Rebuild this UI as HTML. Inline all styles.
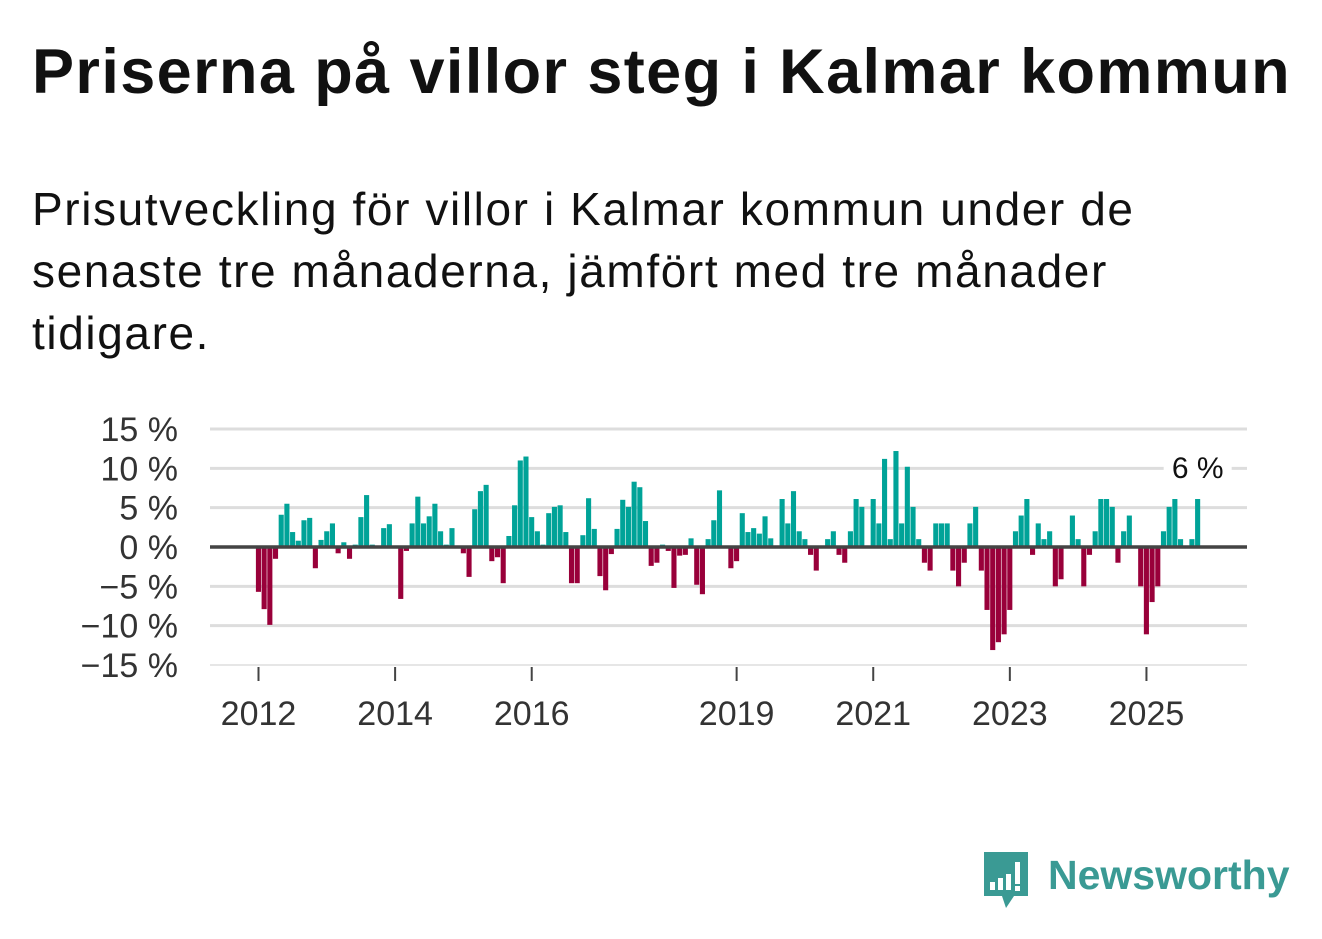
<!DOCTYPE html>
<html><head><meta charset="utf-8">
<style>
body{margin:0;background:#fff;width:1322px;height:939px;overflow:hidden;font-family:"Liberation Sans",sans-serif;color:#111}
h1{position:absolute;left:32px;top:36px;margin:0;font-size:63px;font-weight:bold;color:#111;letter-spacing:1.4px;white-space:nowrap}
#sub{position:absolute;left:32px;top:178px;margin:0;font-size:46px;line-height:62px;width:1140px;color:#111;letter-spacing:1.6px}
svg{position:absolute;left:0;top:0}
</style></head><body>
<h1>Priserna på villor steg i Kalmar kommun</h1>
<p id="sub">Prisutveckling för villor i Kalmar kommun under de senaste tre månaderna, jämfört med tre månader tidigare.</p>
<svg id="chart" width="1322" height="939"></svg>
<div style="position:absolute;left:982px;top:850px;width:310px;height:60px">
<svg width="50" height="60" style="position:absolute;left:0;top:0"><path d="M2 2h44v44H32l-8 12-4-12H2z" fill="#3a9a94"/><rect x="8" y="32" width="5" height="8" fill="#fff"/><rect x="16" y="28" width="5" height="12" fill="#fff"/><rect x="24" y="24" width="5" height="16" fill="#fff"/><rect x="33" y="12" width="5" height="22" fill="#fff"/><rect x="33" y="36" width="5" height="5" fill="#fff"/></svg>
<div style="position:absolute;left:66px;top:0;font-size:41px;color:#3a9a94;font-weight:bold;line-height:50px">Newsworthy</div>
</div>
<script>
const startYear = 2012;
const values = [-5.7,-7.9,-9.9,-1.5,4.1,5.5,1.9,0.8,3.4,3.7,-2.7,0.9,2.0,3.0,-0.8,0.6,-1.5,0.3,3.8,6.6,0.3,0,2.4,2.9,0,-6.6,-0.5,3.0,6.4,3.0,3.9,5.5,2.0,0.3,2.4,0,-0.8,-3.8,4.8,7.1,7.9,-1.8,-1.3,-4.6,1.4,5.3,11.0,11.5,3.8,2.0,0.3,4.3,
5.1,5.3,1.9,-4.6,-4.6,1.5,6.2,2.3,-3.7,-5.5,-0.9,2.3,6.0,5.1,8.3,7.6,3.3,-2.4,-2.0,0.3,-0.5,-5.2,-1.1,-1.0,1.1,-4.8,-6.0,1.0,3.4,7.2,0,-2.7,-1.8,4.3,1.9,2.4,1.7,3.9,1.1,0,6.1,3.0,7.1,2.0,1.0,-1.0,-3.0,0,1.0,2.0,-1.0,
-2.0,2.0,6.1,5.1,0,6.1,3.0,11.2,1.0,12.2,3.0,10.2,5.1,1.0,-2.0,-3.0,3.0,3.0,3.0,-3.0,-5.0,-2.0,3.0,5.1,-3.0,-8.0,-13.1,-12.1,-11.1,-8.0,2.0,4.0,6.1,-1.0,3.0,1.0,2.0,-5.0,-4.1,0,4.0,1.0,-5.0,-1.0,2.0,6.1,6.1,5.1,-2.0,2.0,4.0,
0,-5.0,-11.1,-7.0,-5.0,2.0,5.1,6.1,1.0,0,1.0,6.1];
const yTicks = [15,10,5,0,-5,-10,-15];
const yTickLabels = ["15 %","10 %","5 %","0 %","\u22125 %","\u221210 %","\u221215 %"];
const xTickYears = [2012,2014,2016,2019,2021,2023,2025];
const lastLabel = "6 %";

const svg=document.getElementById('chart');
const NS='http://www.w3.org/2000/svg';
const x0=258.5, mStep=5.692, left=210, right=1247;
const y=v=>547-v*7.867;
const x=i=>x0+i*mStep;
function mk(t,a){const e=document.createElementNS(NS,t);for(const k in a)e.setAttribute(k,a[k]);svg.appendChild(e);return e;}
yTicks.forEach((v,i)=>{
  if(v!==0){const g=mk('line',{x1:left,x2:right,y1:y(v),y2:y(v),stroke:'#ddd','stroke-width':v===-15?1.5:3});
  
  }
  const t=mk('text',{x:178,y:y(v)+12,'text-anchor':'end','font-size':34,fill:'#333','font-family':'Liberation Sans, sans-serif'});
  t.textContent=yTickLabels[i];
  
  
});
values.forEach((v,i)=>{
  if(v===0)return;
  const r=mk('rect',{x:x(i)-2.6,width:5.1,y:Math.min(y(v),y(0)),height:Math.abs(y(v)-y(0)),fill:v>0?'#00a398':'#99003a'});
  
  
});
const z=mk('line',{x1:left,x2:right,y1:y(0),y2:y(0),stroke:'#444','stroke-width':3.5});


xTickYears.forEach(yr=>{
  const xx=x((yr-startYear)*12);
  const tk=mk('line',{x1:xx,x2:xx,y1:667,y2:681,stroke:'#444','stroke-width':2});
  
  
  const t=mk('text',{x:xx,y:725,'text-anchor':'middle','font-size':34,fill:'#333','font-family':'Liberation Sans, sans-serif'});
  t.textContent=yr;
  
  
});
const li=values.length-1;
const bg=mk('rect',{x:x(li)-34,y:450,width:68,height:34,fill:'#fff'});


const lt=mk('text',{x:x(li),y:478,'text-anchor':'middle','font-size':30,fill:'#111','font-family':'Liberation Sans, sans-serif'});
lt.textContent=lastLabel;


</script>
</body></html>
